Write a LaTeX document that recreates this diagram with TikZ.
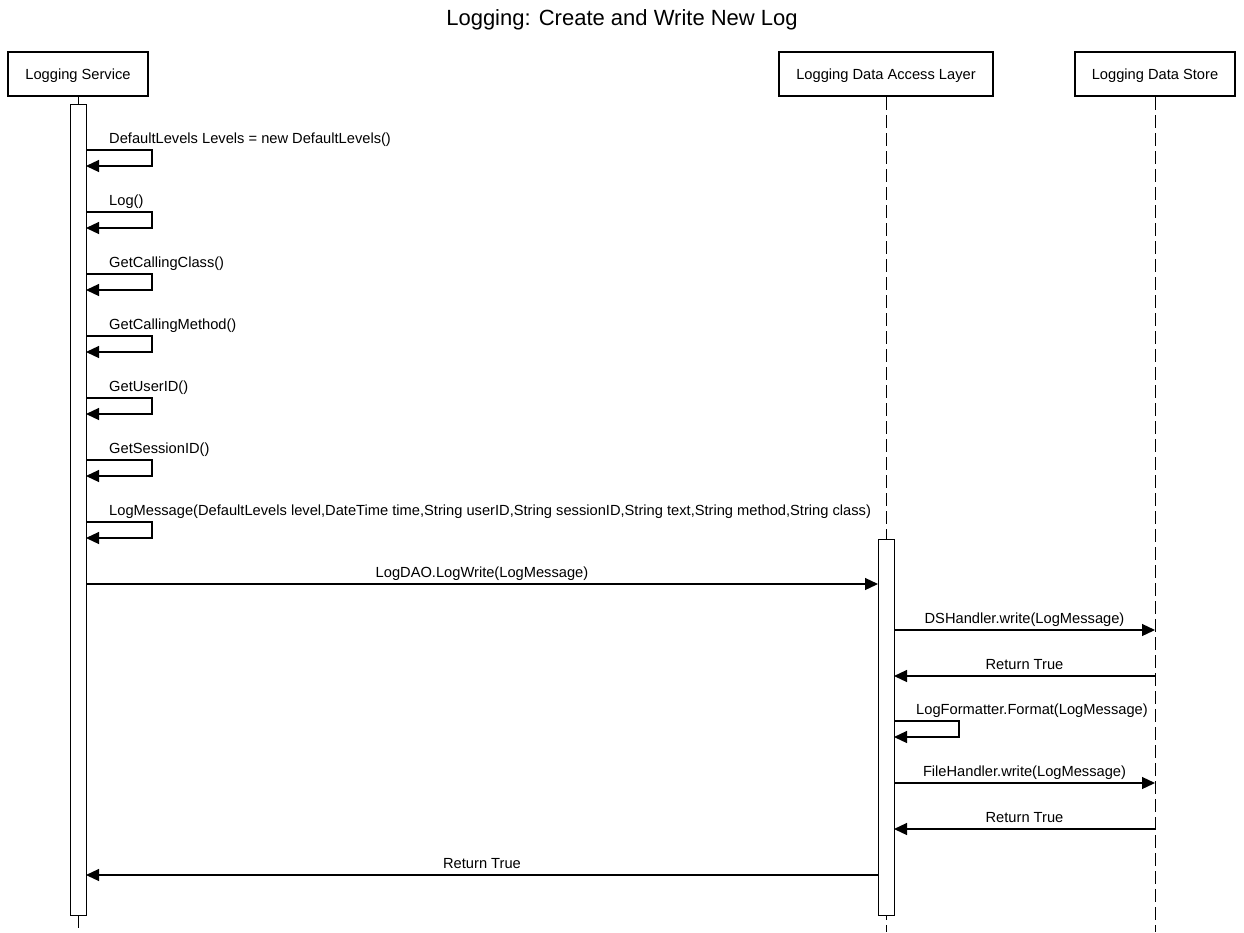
\documentclass[tikz,border=0pt]{standalone}
\usepackage{fontspec}
\setmainfont{Liberation Sans}
\usetikzlibrary{arrows.meta}
\begin{document}
\begin{tikzpicture}[x=1pt,y=-1pt,
  actor/.style={draw,line width=2pt,fill=white,minimum width=#1,minimum height=44pt,inner sep=0pt,text depth=0pt,font=\fontsize{14.67}{17}\selectfont},
  lifeline/.style={line width=1pt,dash pattern=on 13pt off 5pt},
  activation/.style={draw,line width=1pt,fill=white},
  msg/.style={line width=1.2pt,-{Triangle[length=13pt,width=12pt]}},
  lbl/.style={font=\fontsize{14.67}{17}\selectfont,inner sep=0pt,text depth=0pt},
  selfmsg/.style={line width=1.2pt,-{Triangle[length=13pt,width=12pt]}}]
\useasboundingbox (0,0) rectangle (1244,932);

% title
\node[font=\fontsize{22}{26}\selectfont,anchor=base] (title) at (622,25) {Logging: Create and Write New Log};

% participants
\node[actor=140pt] (ls)   at (78,74)   {Logging Service};
\node[actor=214pt] (dal)  at (886,74)  {Logging Data Access Layer};
\node[actor=160pt] (ds)   at (1155,74) {Logging Data Store};

% lifelines
\coordinate (lsEnd)  at (78,932);
\coordinate (dalEnd) at (886,932);
\coordinate (dsEnd)  at (1155,932);
\draw[line width=1pt] (ls.south) -- (78,104);
\draw[lifeline] (78,915) -- (lsEnd);
\draw[lifeline] (dal.south) -- (dalEnd);
\draw[lifeline] (ds.south) -- (dsEnd);

% activation bars
\draw[activation] (70,104) rectangle (86,915);
\draw[activation] (878,539) rectangle (894,915);

% self calls on the logging service
\foreach \y/\t in {150/{DefaultLevels Levels = new DefaultLevels()},
                   212/{Log()},
                   274/{GetCallingClass()},
                   336/{GetCallingMethod()},
                   398/{GetUserID()},
                   460/{GetSessionID()},
                   522/{LogMessage(DefaultLevels level,DateTime time,String userID,String sessionID,String text,String method,String class)}}{
  \draw[selfmsg] (86,\y) -- (152,\y) -- (152,\y+16) -- (86,\y+16);
  \node[lbl,anchor=base west] at (109,\y-7) {\t};
}

% calls between participants
\coordinate (a1) at (86,584);  \coordinate (b1) at (878,584);
\draw[msg] (a1) -- node[lbl,above=6pt] {LogDAO.LogWrite(LogMessage)} (b1);

\coordinate (a2) at (894,630); \coordinate (b2) at (1155,630);
\draw[msg] (a2) -- node[lbl,above=6pt] {DSHandler.write(LogMessage)} (b2);

\coordinate (a3) at (1155,676); \coordinate (b3) at (894,676);
\draw[msg] (a3) -- node[lbl,above=6pt] {Return True} (b3);

% self call on the data access layer
\draw[selfmsg] (894,721) -- (959,721) -- (959,737) -- (894,737);
\node[lbl,anchor=base west] (fmt) at (916,714) {LogFormatter.Format(LogMessage)};

\coordinate (a4) at (894,783); \coordinate (b4) at (1155,783);
\draw[msg] (a4) -- node[lbl,above=6pt] {FileHandler.write(LogMessage)} (b4);

\coordinate (a5) at (1155,829); \coordinate (b5) at (894,829);
\draw[msg] (a5) -- node[lbl,above=6pt] {Return True} (b5);

\coordinate (a6) at (878,875); \coordinate (b6) at (86,875);
\draw[msg] (a6) -- node[lbl,above=6pt] {Return True} (b6);
\end{tikzpicture}
\end{document}
